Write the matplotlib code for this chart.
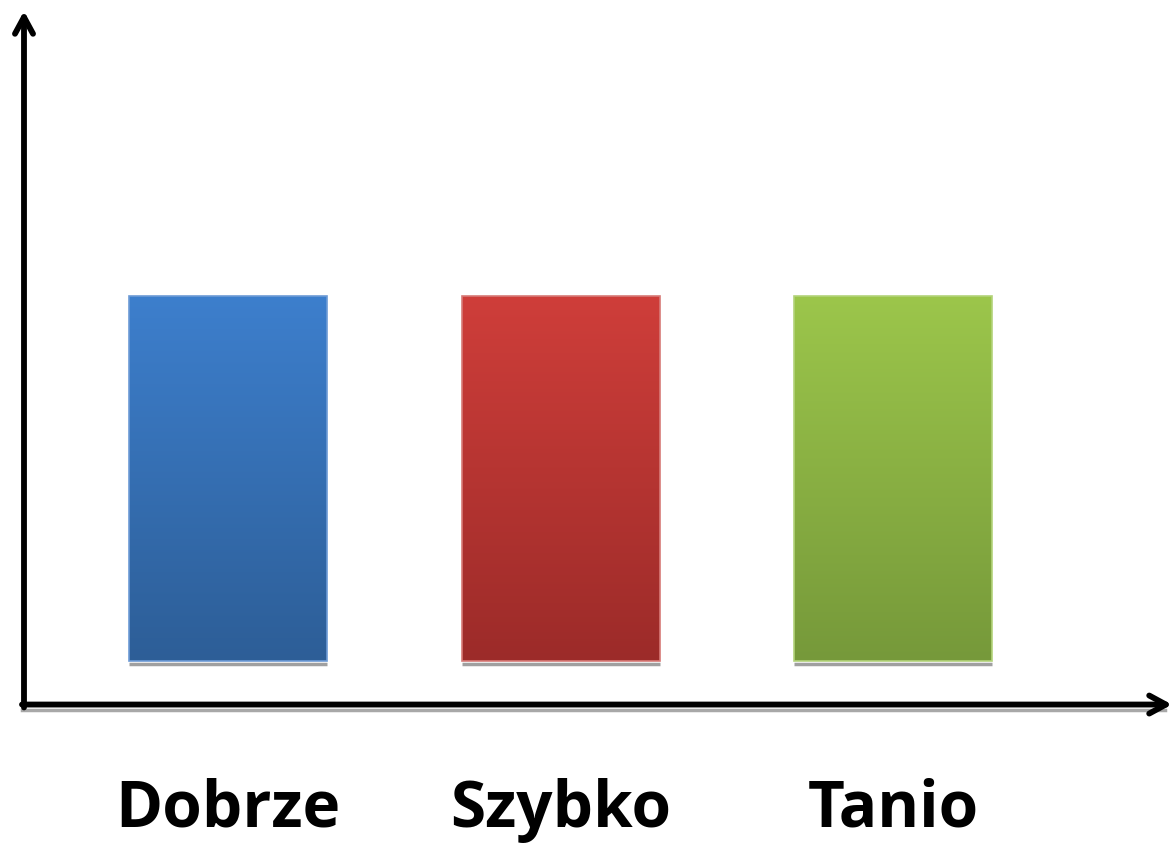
import numpy as np
import matplotlib
matplotlib.use("Agg")
import matplotlib.pyplot as plt
from matplotlib.colors import LinearSegmentedColormap

categories = ["Dobrze", "Szybko", "Tanio"]
values = [1.0, 1.0, 1.0]
top_colors = ["#3d7fcd", "#cf3e3a", "#9cc64b"]
bottom_colors = ["#2d5e97", "#9c2b29", "#76993a"]
edge_colors = ["#6d9bd6", "#d77a77", "#b3d37a"]

base = 0.123  # bars float slightly above the axis

fig = plt.figure(figsize=(11.75, 8.45), dpi=100)
# axes box: x-axis line at y=707px, top at 12px; left 22px, right 1172px
ax = fig.add_axes([22 / 1175, (845 - 707) / 845, (1172 - 22) / 1175, (707 - 12) / 845])
ax.set_xlim(-0.619, 2.838)
ax.set_ylim(0, 1.904)
ax.axis("off")

x = np.arange(len(categories))
bars = ax.bar(x, values, width=0.595, bottom=base, color="none",
              edgecolor="none", zorder=2)

grad = np.linspace(0, 1, 256).reshape(-1, 1)
for b, c0, c1, ec in zip(bars, top_colors, bottom_colors, edge_colors):
    cmap = LinearSegmentedColormap.from_list("g", [c1, c0])
    bx, by, bw, bh = b.get_x(), b.get_y(), b.get_width(), b.get_height()
    im = ax.imshow(grad, cmap=cmap, aspect="auto", origin="lower",
                   extent=[bx, bx + bw, by, by + bh], zorder=2)
    im.set_clip_path(b)
    # faint grey shadow line under the bar
    ax.plot([bx, bx + bw], [by - 0.008, by - 0.008], color="#a0a0a0",
            lw=2.5, zorder=1, solid_capstyle="butt")
    ax.add_patch(plt.Rectangle((bx, by), bw, bh, fill=False, edgecolor=ec,
                               lw=1.2, zorder=3))

# axes with arrow heads
arrow = dict(arrowstyle="->,head_length=1.2,head_width=0.65",
             lw=4.2, color="black", shrinkA=0, shrinkB=0)
ax.annotate("", xy=(ax.get_xlim()[1], 0.004), xytext=(ax.get_xlim()[0], 0.004),
            arrowprops=arrow, annotation_clip=False)
ax.annotate("", xy=(-0.613, 1.904), xytext=(-0.613, -0.004),
            arrowprops=arrow, annotation_clip=False)
# grey dotted shadow under x axis
ax.plot([ax.get_xlim()[0], ax.get_xlim()[1] - 0.02], [-0.01, -0.01],
        color="#a8a8a8", lw=2.5, zorder=0, clip_on=False)

for xi, name in zip(x, categories):
    ax.text(xi, -0.283, name, ha="center", va="center", fontsize=46,
            fontweight="bold", family=["Open Sans", "DejaVu Sans"],
            clip_on=False)

fig.savefig("out.png", dpi=100)
